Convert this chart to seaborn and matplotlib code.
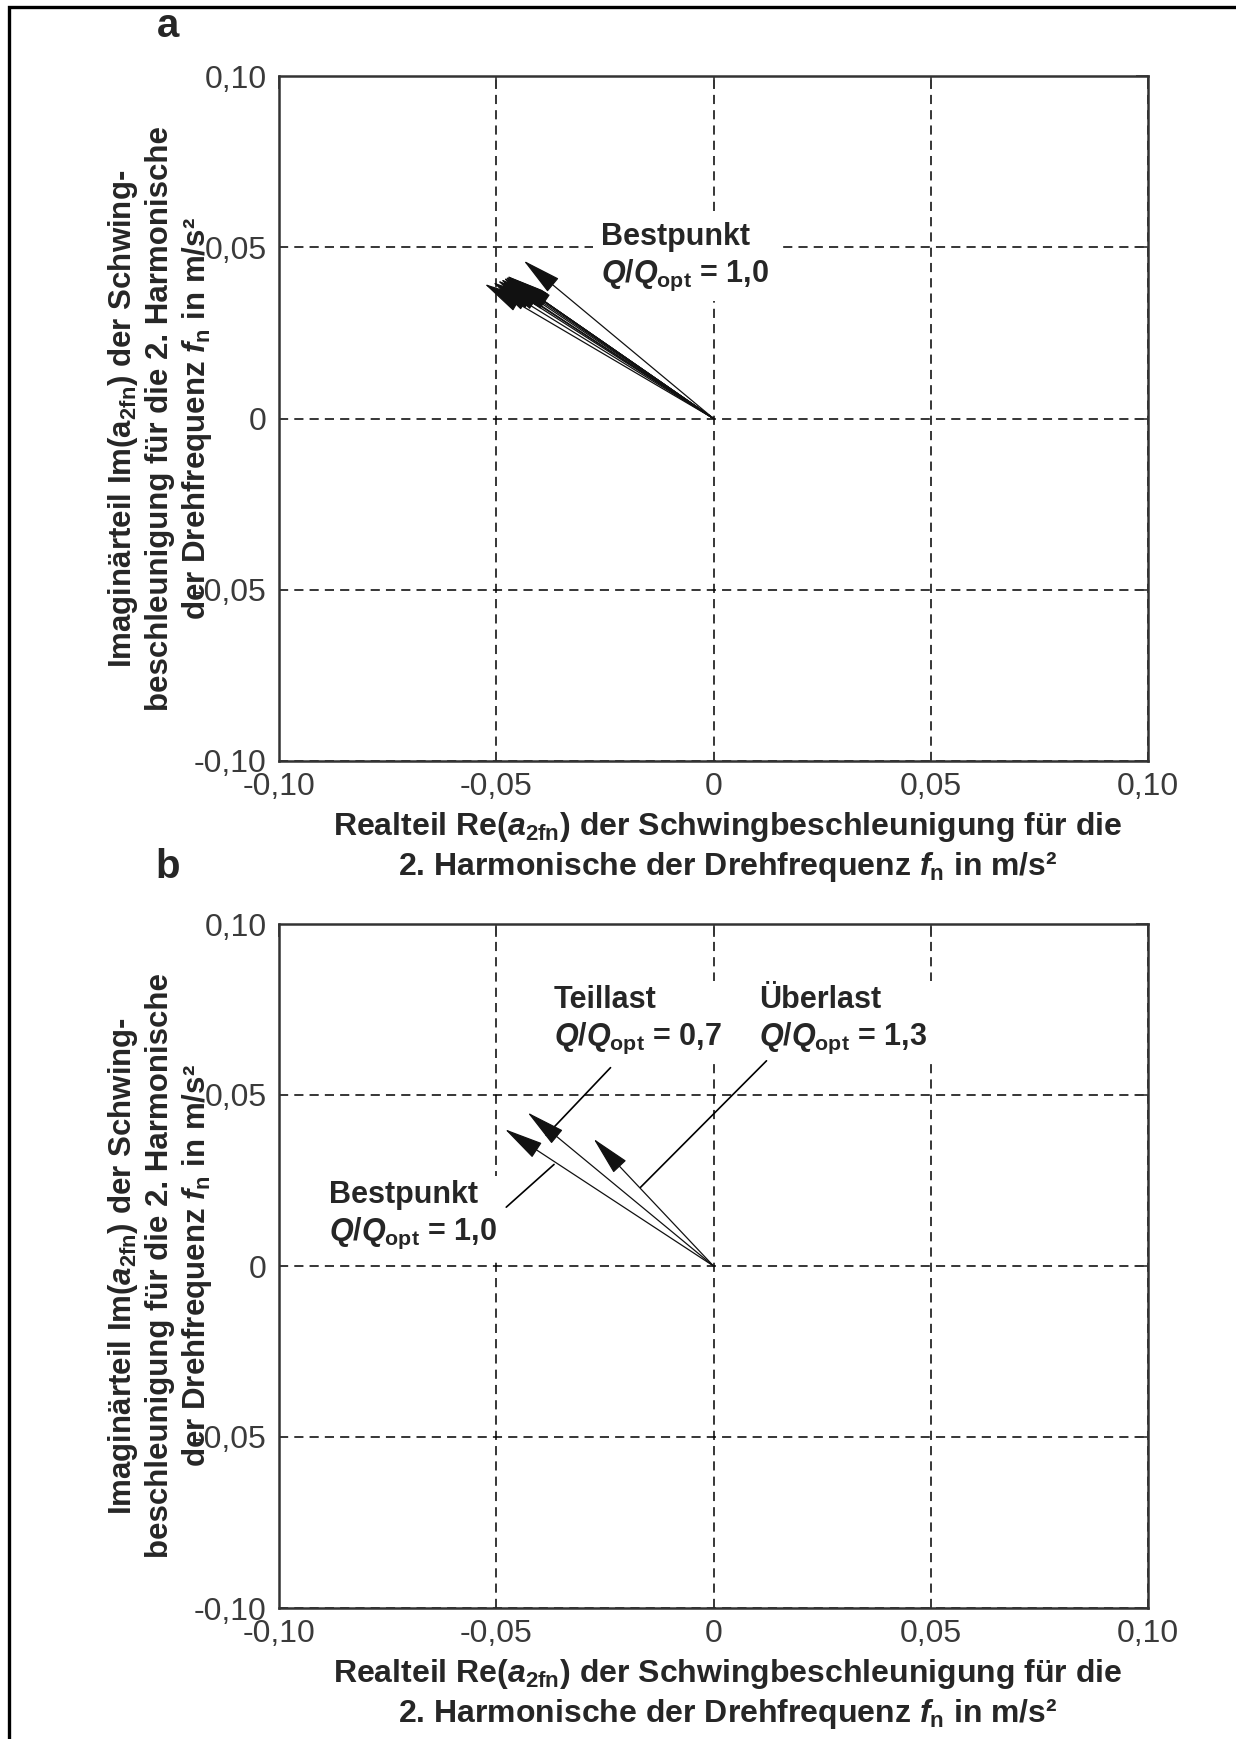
import matplotlib
matplotlib.use("Agg")
import matplotlib.pyplot as plt
import seaborn as sns
from matplotlib.patches import Rectangle

# ---------------- data ----------------
# panel a: many measured vectors at the best point + the highlighted one
a_cluster_re = [-0.0527, -0.0508, -0.0497, -0.0490, -0.0484, -0.0480,
                -0.0476, -0.0472, -0.0468, -0.0464, -0.0460, -0.0486]
a_cluster_im = [0.0393, 0.0398, 0.0403, 0.0407, 0.0411, 0.0414,
                0.0417, 0.0414, 0.0411, 0.0408, 0.0404, 0.0401]
a_best_re = [-0.0437]
a_best_im = [0.0461]

# panel b: three operating points
b_names = ["Bestpunkt", "Teillast", "Überlast"]
b_ratio = ["1,0", "0,7", "1,3"]
b_re = [-0.0480, -0.0428, -0.0276]
b_im = [0.0400, 0.0449, 0.0372]

# annotation text anchors (left, top) and leader lines (start -> end)
a_text_pos = [(-0.0258, 0.0575)]
b_text_pos = [(-0.0884, 0.0252), (-0.0368, 0.0822), (0.0105, 0.0822)]
b_leader_start = [(-0.0477, 0.0172), (-0.0237, 0.0580), (0.0122, 0.0600)]
b_leader_end = [(-0.0367, 0.0297), (-0.0385, 0.0382), (-0.0168, 0.0230)]

ticks = [-0.10, -0.05, 0.0, 0.05, 0.10]
tick_labels = ["-0,10", "-0,05", "0", "0,05", "0,10"]

# ---------------- style ----------------
sns.set_theme(style="white")
plt.rcParams["font.family"] = ["Liberation Sans", "DejaVu Sans"]
plt.rcParams["mathtext.fontset"] = "custom"
plt.rcParams["mathtext.rm"] = "Liberation Sans:bold"
plt.rcParams["mathtext.it"] = "Liberation Sans:italic:bold"
plt.rcParams["mathtext.bf"] = "Liberation Sans:bold"

W, H = 1236, 1739
fig = plt.figure(figsize=(W / 100, H / 100), dpi=100)

ax_a = fig.add_axes([279 / W, 1 - 761 / H, 869 / W, 685 / H])
ax_b = fig.add_axes([279 / W, 1 - 1608 / H, 869 / W, 684 / H])

XLBL = 23
YLBL = 22.5
TXT = 22


def q_text(name, ratio):
    return name + "\n" + r"$\mathit{Q}$/$\mathit{Q}_{\mathrm{opt}}$" + " = " + ratio


def style_axes(ax, ylab):
    ax.set_xlim(-0.10, 0.10)
    ax.set_ylim(-0.10, 0.10)
    ax.set_xticks(ticks)
    ax.set_yticks(ticks)
    ax.set_xticklabels(tick_labels)
    ax.set_yticklabels(tick_labels)
    ax.tick_params(direction="in", length=9, width=1.2, color="#333333",
                   top=True, right=True, labelsize=23, labelcolor="#3a3a3a")
    ax.tick_params(axis="x", pad=8)
    ax.tick_params(axis="y", pad=9)
    ax.grid(True, linestyle=(0, (6, 4)), color="black", linewidth=1.1)
    ax.set_axisbelow(True)
    for s in ax.spines.values():
        s.set_color("#333333")
        s.set_linewidth(1.8)
        s.set_visible(True)
    ax.set_xlabel("Realteil Re($\\mathit{a}_{\\mathrm{2fn}}$) der Schwingbeschleunigung für die\n"
                  "2. Harmonische der Drehfrequenz $\\mathit{f}_{\\mathrm{n}}$ in m/s²",
                  fontsize=XLBL, fontweight="bold", va="center", linespacing=1.22)
    ax.xaxis.set_label_coords(0.5167, -0.1255)
    ax.set_ylabel(ylab, fontsize=YLBL, fontweight="bold", va="center", linespacing=1.22)
    ax.yaxis.set_label_coords(-0.137, 0.5)


def draw_arrows(ax, res, ims):
    for re, im in zip(res, ims):
        ax.annotate("", xy=(re, im), xytext=(0.0, 0.0), xycoords="data",
                    arrowprops=dict(arrowstyle="-|>,head_length=1.25,head_width=0.28",
                                    mutation_scale=20, color="#111111", lw=0.9,
                                    shrinkA=0, shrinkB=0),
                    zorder=5)


ylab_a = ("Imaginärteil Im(a$_{\\mathrm{2fn}}$) der Schwing-\n"
          "beschleunigung für die 2. Harmonische\n"
          "der Drehfrequenz $\\mathit{f}_{\\mathrm{n}}$ in m/s²")
ylab_b = ("Imaginärteil Im($\\mathit{a}_{\\mathrm{2fn}}$) der Schwing-\n"
          "beschleunigung für die 2. Harmonische\n"
          "der Drehfrequenz $\\mathit{f}_{\\mathrm{n}}$ in m/s²")

style_axes(ax_a, ylab_a)
style_axes(ax_b, ylab_b)

# panel a
draw_arrows(ax_a, a_cluster_re, a_cluster_im)
draw_arrows(ax_a, a_best_re, a_best_im)
ax_a.text(a_text_pos[0][0], a_text_pos[0][1], q_text("Bestpunkt", "1,0"),
          fontsize=TXT, fontweight="bold", ha="left", va="top", linespacing=1.25,
          zorder=3, bbox=dict(facecolor="white", edgecolor="none", pad=6))

# panel b
draw_arrows(ax_b, b_re, b_im)
for (x0, y0), (x1, y1) in zip(b_leader_start, b_leader_end):
    ax_b.plot([x0, x1], [y0, y1], color="black", lw=1.2, zorder=4)
for name, ratio, (tx, ty) in zip(b_names, b_ratio, b_text_pos):
    ax_b.text(tx, ty, q_text(name, ratio), fontsize=TXT, fontweight="bold",
              ha="left", va="top", linespacing=1.25, zorder=3,
              bbox=dict(facecolor="white", edgecolor="none", pad=6))

# panel letters
fig.text(168 / W, 1 - 26 / H, "a", fontsize=29, fontweight="bold", ha="center", va="center")
fig.text(168 / W, 1 - 867 / H, "b", fontsize=29, fontweight="bold", ha="center", va="center")

# outer frame (left and top edges visible)
fig.add_artist(Rectangle((9 / W, -0.1), 1.2, 1 - 7 / H + 0.1, transform=fig.transFigure,
                         fill=False, edgecolor="black", linewidth=2.4))

fig.savefig("out.png", dpi=100, facecolor="white")
